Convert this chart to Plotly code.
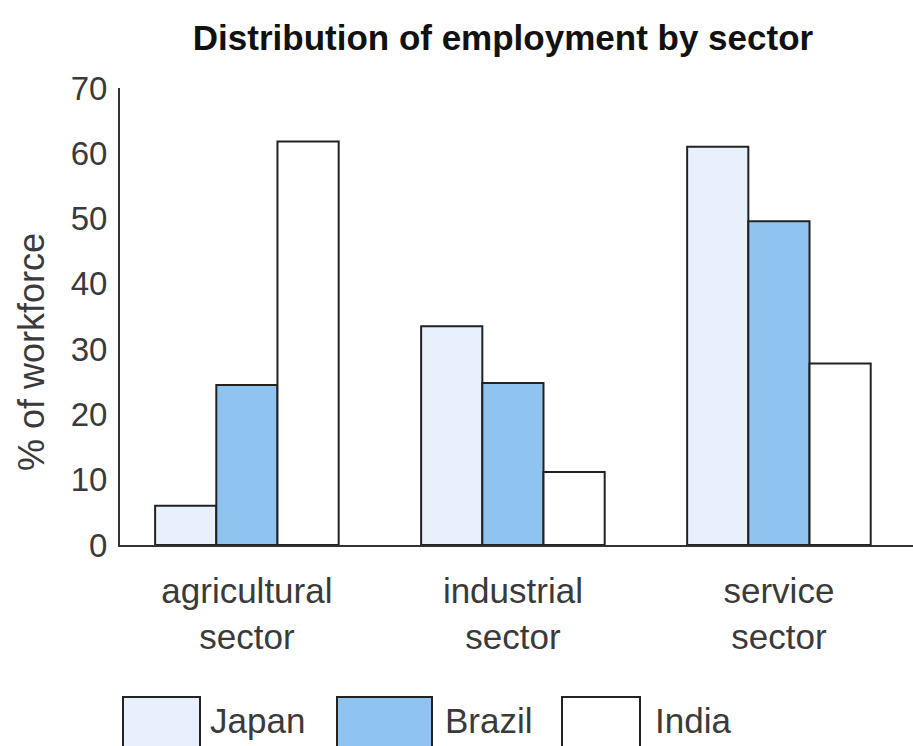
import plotly.graph_objects as go

categories = ["agricultural<br>sector", "industrial<br>sector", "service<br>sector"]
countries = ["Japan", "Brazil", "India"]
japan = [6, 33.5, 61]
brazil = [24.5, 24.8, 49.6]
india = [61.8, 11.2, 27.8]
colors = ["#e8f0fb", "#8fc4f0", "#ffffff"]
series = [japan, brazil, india]

FONT = "Liberation Sans, Arial, sans-serif"
TXT = "#3a3a3a"

W, H = 913, 746
L, R, T, B = 120, 0, 88, 201
pw, ph = W - L - R, H - T - B

fig = go.Figure()
for name, vals, col in zip(countries, series, colors):
    fig.add_trace(go.Bar(
        x=list(range(len(categories))), y=vals, name=name,
        marker=dict(color=col, line=dict(color="#222222", width=2)),
        showlegend=False,
    ))

def px_x(p):
    return (p - L) / pw

def px_y(p):
    return (H - B - p) / ph

# custom legend (large boxes like the reference)
leg_boxes = [(123, 200), (337, 432), (562, 640)]
leg_text_x = [208, 443, 653]
for (x0, x1), tx, name, col in zip(leg_boxes, leg_text_x, countries, colors):
    fig.add_shape(type="rect", xref="paper", yref="paper",
                  x0=px_x(x0), x1=px_x(x1), y0=px_y(752), y1=px_y(697),
                  fillcolor=col, line=dict(color="#222222", width=2))
    fig.add_annotation(xref="paper", yref="paper", x=px_x(tx), y=px_y(720),
                       text=name, showarrow=False, xanchor="left", yanchor="middle",
                       font=dict(family=FONT, size=35, color=TXT))

# y axis title
fig.add_annotation(xref="paper", yref="paper", x=px_x(32), y=px_y(352),
                   text="% of workforce", textangle=-90, showarrow=False,
                   xanchor="center", yanchor="middle",
                   font=dict(family=FONT, size=36, color=TXT))

fig.update_layout(
    width=W, height=H,
    margin=dict(l=L, r=R, t=T, b=B),
    paper_bgcolor="white", plot_bgcolor="white",
    barmode="group", bargap=0.31, bargroupgap=0,
    title=dict(text="<b>Distribution of employment by sector</b>", x=503 / W, xanchor="center",
               y=1 - 38 / H, yanchor="middle",
               font=dict(family=FONT, size=35, color="#111111")),
    font=dict(family=FONT, color=TXT),
)
fig.update_xaxes(
    range=[-0.477, 2.504], tickmode="array", tickvals=[0, 1, 2], ticktext=categories,
    showline=True, linecolor="#333333", linewidth=2, showgrid=False, ticks="",
    ticklabelstandoff=14,
    tickfont=dict(family=FONT, size=35, color=TXT), zeroline=False,
)
fig.update_yaxes(
    range=[0, 70], tickvals=[0, 10, 20, 30, 40, 50, 60, 70],
    showline=True, linecolor="#333333", linewidth=2, showgrid=False, ticks="",
    ticklabelstandoff=4,
    tickfont=dict(family=FONT, size=33, color=TXT), zeroline=False,
)

fig.write_html("out.html")
